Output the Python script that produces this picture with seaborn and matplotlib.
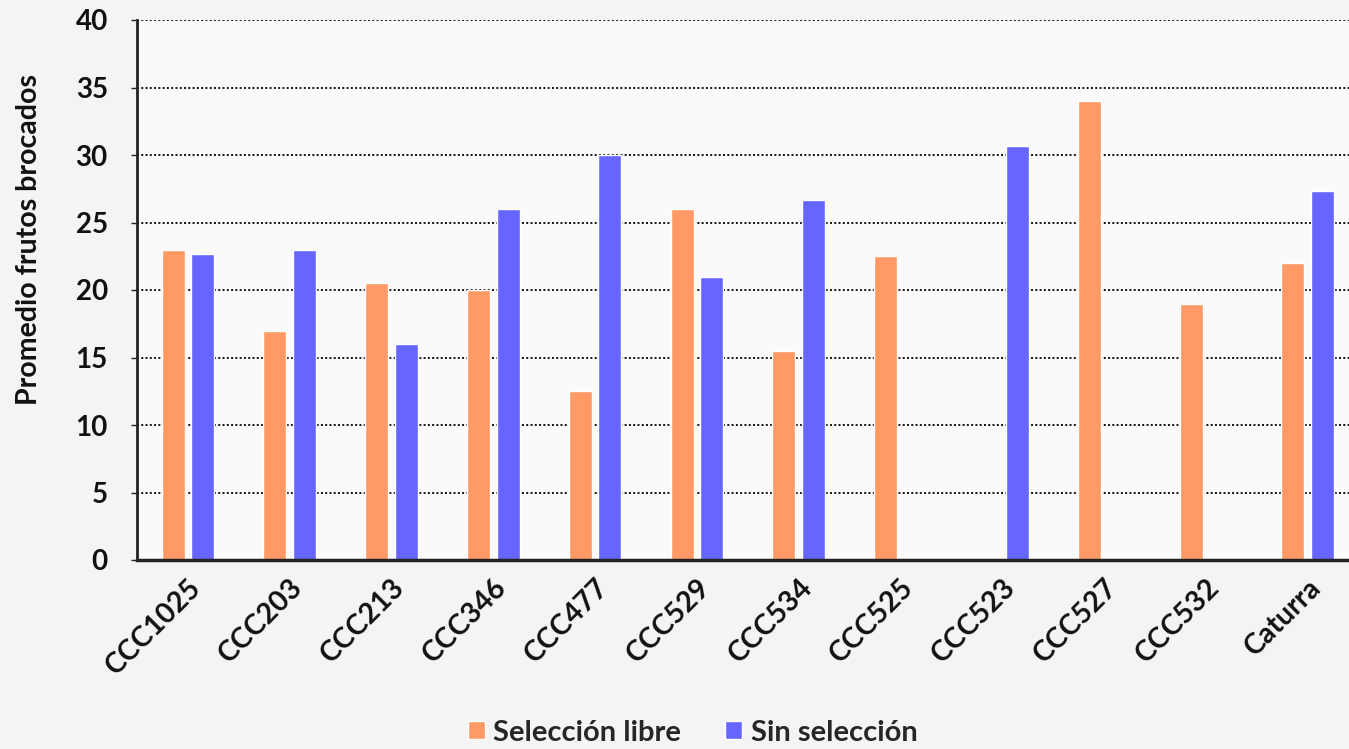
import matplotlib
matplotlib.use("Agg")
import matplotlib.pyplot as plt
import seaborn as sns
import pandas as pd
import numpy as np

categories = ["CCC1025", "CCC203", "CCC213", "CCC346", "CCC477", "CCC529",
              "CCC534", "CCC525", "CCC523", "CCC527", "CCC532", "Caturra"]
seleccion_libre = [23.0, 17.0, 20.5, 20.0, 12.5, 26.0, 15.5, 22.5, np.nan, 34.0, 19.0, 22.0]
sin_seleccion = [22.7, 23.0, 16.0, 26.0, 30.0, 21.0, 26.7, np.nan, 30.7, np.nan, np.nan, 27.3]
series_names = ["Selección libre", "Sin selección"]
colors = ["#FF9966", "#6666FF"]
yticks = [0, 5, 10, 15, 20, 25, 30, 35, 40]

rows = []
for c, a, b in zip(categories, seleccion_libre, sin_seleccion):
    rows.append({"cat": c, "serie": series_names[0], "val": a})
    rows.append({"cat": c, "serie": series_names[1], "val": b})
df = pd.DataFrame(rows).dropna()

sns.set_theme(style="white")
plt.rcParams['font.family'] = ['Lato', 'DejaVu Sans']

W, H = 1349, 749
fig = plt.figure(figsize=(W / 100, H / 100), dpi=100)
fig.patch.set_facecolor("#f4f4f4")
ax = fig.add_axes([137 / W, 1 - 560 / H, (W - 137) / W, 540 / H])
ax.set_facecolor("#fafafa")

sns.barplot(data=df, x="cat", y="val", hue="serie", order=categories,
            hue_order=series_names, palette=colors, width=0.58, gap=0.22,
            saturation=1, ax=ax, legend=True, errorbar=None)

ax.set_xlim(-0.5, -0.5 + (W - 137) / 101.8)
ax.set_ylim(0, 40)
ax.set_yticks(yticks)
ax.set_yticklabels([str(t) for t in yticks], fontsize=20, fontweight="bold", color="#111111")
ax.set_xticks(range(len(categories)))
ax.set_xticklabels(categories, rotation=45, ha="right", rotation_mode="anchor",
                   fontsize=20.5, fontweight="bold", color="#111111")
ax.set_xlabel("")
ax.set_ylabel("Promedio frutos brocados", fontsize=20.5, fontweight="bold", color="#111111")
ax.yaxis.set_label_coords(-0.078, 0.593)

ax.yaxis.grid(True, linestyle=(0, (1, 1.2)), color="#111111", linewidth=1.4)
ax.set_axisbelow(True)
for s in ["top", "right"]:
    ax.spines[s].set_visible(False)
ax.spines["left"].set_color("#222222")
ax.spines["left"].set_linewidth(2)
ax.spines["bottom"].set_color("#222222")
ax.spines["bottom"].set_linewidth(2.5)
ax.tick_params(axis="y", length=4, width=1, color="#222222", pad=17, left=True)
ax.tick_params(axis="x", length=0, pad=10)

handles, labels = ax.get_legend_handles_labels()
ax.get_legend().remove()
fig.legend(handles, labels, loc="center", bbox_to_anchor=(0.5134, 0.022), ncol=2,
           frameon=False, handlelength=0.58, handleheight=0.58, columnspacing=1.5,
           handletextpad=0.3, prop={"size": 21, "weight": "bold"})

fig.savefig("out.png", dpi=100, facecolor=fig.get_facecolor())
